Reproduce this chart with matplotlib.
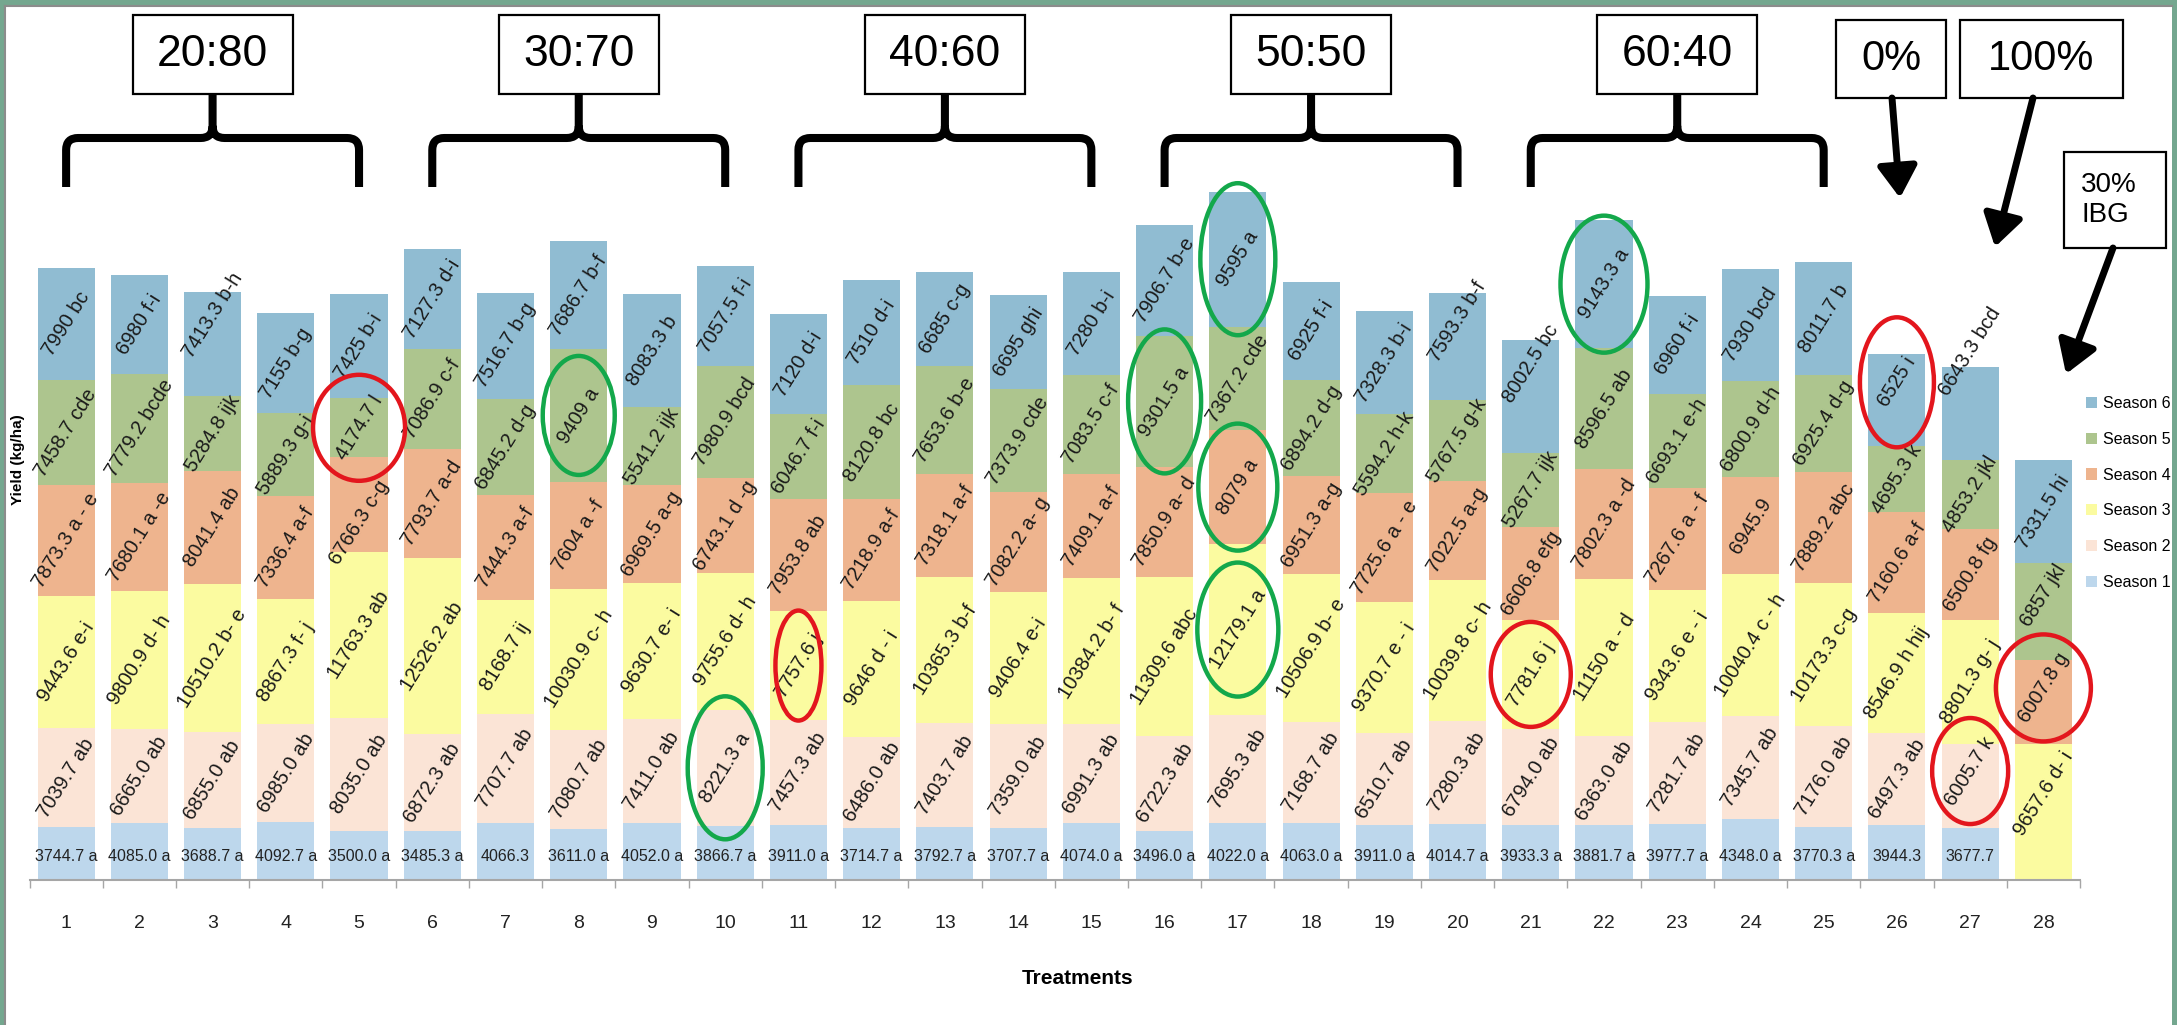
import matplotlib
matplotlib.use('Agg')
import matplotlib.pyplot as plt
from matplotlib import font_manager
from matplotlib.patches import Rectangle, Ellipse, PathPatch
from matplotlib.path import Path
from matplotlib.transforms import ScaledTranslation, blended_transform_factory
import numpy as np

# ---- data (kg/ha) ----
treatments = list(range(1, 29))
season_names = ['Season 1', 'Season 2', 'Season 3', 'Season 4', 'Season 5', 'Season 6']

season1 = [3744.7, 4085.0, 3688.7, 4092.7, 3500.0, 3485.3, 4066.3, 3611.0, 4052.0, 3866.7,
           3911.0, 3714.7, 3792.7, 3707.7, 4074.0, 3496.0, 4022.0, 4063.0, 3911.0, 4014.7,
           3933.3, 3881.7, 3977.7, 4348.0, 3770.3, 3944.3, 3677.7, 0]
season2 = [7039.7, 6665.0, 6855.0, 6985.0, 8035.0, 6872.3, 7707.7, 7080.7, 7411.0, 8221.3,
           7457.3, 6486.0, 7403.7, 7359.0, 6991.3, 6722.3, 7695.3, 7168.7, 6510.7, 7280.3,
           6794.0, 6363.0, 7281.7, 7345.7, 7176.0, 6497.3, 6005.7, 0]
season3 = [9443.6, 9800.9, 10510.2, 8867.3, 11763.3, 12526.2, 8168.7, 10030.9, 9630.7, 9755.6,
           7757.6, 9646, 10365.3, 9406.4, 10384.2, 11309.6, 12179.1, 10506.9, 9370.7, 10039.8,
           7781.6, 11150, 9343.6, 10040.4, 10173.3, 8546.9, 8801.3, 9657.6]
season4 = [7873.3, 7680.1, 8041.4, 7336.4, 6766.3, 7793.7, 7444.3, 7604, 6969.5, 6743.1,
           7953.8, 7218.9, 7318.1, 7082.2, 7409.1, 7850.9, 8079, 6951.3, 7725.6, 7022.5,
           6606.8, 7802.3, 7267.6, 6945.9, 7889.2, 7160.6, 6500.8, 6007.8]
season5 = [7458.7, 7779.2, 5284.8, 5889.3, 4174.7, 7086.9, 6845.2, 9409, 5541.2, 7980.9,
           6046.7, 8120.8, 7653.6, 7373.9, 7083.5, 9301.5, 7367.2, 6894.2, 5594.2, 5767.5,
           5267.7, 8596.5, 6693.1, 6800.9, 6925.4, 4695.3, 4853.2, 6857]
season6 = [7990, 6980, 7413.3, 7155, 7425, 7127.3, 7516.7, 7686.7, 8083.3, 7057.5,
           7120, 7510, 6685, 6695, 7280, 7906.7, 9595, 6925, 7328.3, 7593.3,
           8002.5, 9143.3, 6960, 7930, 8011.7, 6525, 6643.3, 7331.5]

lab1 = ["3744.7 a", "4085.0 a", "3688.7 a", "4092.7 a", "3500.0 a", "3485.3 a", "4066.3", "3611.0 a",
        "4052.0 a", "3866.7 a", "3911.0 a", "3714.7 a", "3792.7 a", "3707.7 a", "4074.0 a", "3496.0 a",
        "4022.0 a", "4063.0 a", "3911.0 a", "4014.7 a", "3933.3 a", "3881.7 a", "3977.7 a", "4348.0 a",
        "3770.3 a", "3944.3", "3677.7", ""]
lab2 = ["7039.7 ab", "6665.0 ab", "6855.0 ab", "6985.0 ab", "8035.0 ab", "6872.3 ab", "7707.7 ab",
        "7080.7 ab", "7411.0 ab", "8221.3 a", "7457.3 ab", "6486.0 ab", "7403.7 ab", "7359.0 ab",
        "6991.3 ab", "6722.3 ab", "7695.3 ab", "7168.7 ab", "6510.7 ab", "7280.3 ab", "6794.0 ab",
        "6363.0 ab", "7281.7 ab", "7345.7 ab", "7176.0 ab", "6497.3 ab", "6005.7 k", ""]
lab3 = ["9443.6 e-i", "9800.9 d- h", "10510.2 b- e", "8867.3 f- j", "11763.3 ab", "12526.2 ab",
        "8168.7 ij", "10030.9 c- h", "9630.7 e- i", "9755.6 d- h", "7757.6 j", "9646 d - i",
        "10365.3 b-f", "9406.4 e-i", "10384.2 b- f", "11309.6 abc", "12179.1 a", "10506.9 b- e",
        "9370.7 e - i", "10039.8 c- h", "7781.6 j", "11150 a - d", "9343.6 e - i", "10040.4 c - h",
        "10173.3 c-g", "8546.9 h hij", "8801.3 g- j", "9657.6 d- i"]
lab4 = ["7873.3 a - e", "7680.1 a -e", "8041.4 ab", "7336.4 a-f", "6766.3 c-g", "7793.7 a-d",
        "7444.3 a-f", "7604 a -f", "6969.5 a-g", "6743.1 d -g", "7953.8 ab", "7218.9 a-f",
        "7318.1 a-f", "7082.2 a- g", "7409.1 a-f", "7850.9 a- d", "8079 a", "6951.3 a-g",
        "7725.6 a - e", "7022.5 a-g", "6606.8 efg", "7802.3 a -d", "7267.6 a - f", "6945.9",
        "7889.2 abc", "7160.6 a-f", "6500.8 fg", "6007.8 g"]
lab5 = ["7458.7 cde", "7779.2 bcde", "5284.8 ijk", "5889.3 g-i", "4174.7 l", "7086.9 c-f",
        "6845.2 d-g", "9409 a", "5541.2 ijk", "7980.9 bcd", "6046.7 f-i", "8120.8 bc",
        "7653.6 b-e", "7373.9 cde", "7083.5 c-f", "9301.5 a", "7367.2 cde", "6894.2 d-g",
        "5594.2 h-k", "5767.5 g-k", "5267.7 ijk", "8596.5 ab", "6693.1 e-h", "6800.9 d-h",
        "6925.4 d-g", "4695.3 k", "4853.2 jkl", "6857 jkl"]
lab6 = ["7990 bc", "6980 f-i", "7413.3 b-h", "7155 b-g", "7425 b-i", "7127.3 d-i", "7516.7 b-g",
        "7686.7 b-f", "8083.3 b", "7057.5 f-i", "7120 d-i", "7510 d-i", "6685 c-g", "6695 ghi",
        "7280 b-i", "7906.7 b-e", "9595 a", "6925 f-i", "7328.3 b-i", "7593.3 b-f", "8002.5 bc",
        "9143.3 a", "6960 f-i", "7930 bcd", "8011.7 b", "6525 i", "6643.3 bcd", "7331.5 hi"]

groups = ['20:80', '30:70', '40:60', '50:50', '60:40']
group_bars = [(1, 5), (6, 10), (11, 15), (16, 20), (21, 25)]

# highlighted labels: (treatment, season index 0-5, colour, width px, height px)
circled = [(5, 4, 'r', 92, 106), (11, 2, 'r', 46, 110), (21, 2, 'r', 80, 105),
           (26, 5, 'r', 74, 130), (27, 1, 'r', 76, 106), (28, 3, 'r', 95, 107),
           (8, 4, 'g', 72, 119), (10, 1, 'g', 75, 143), (16, 4, 'g', 73, 144),
           (17, 5, 'g', 75, 152), (17, 3, 'g', 79, 127), (17, 2, 'g', 81, 134),
           (22, 5, 'g', 87, 137)]

# manual nudges of a few labels (px, negative = up)
nudge = {(3, 5): -29, (20, 5): -25, (21, 5): -33, (27, 5): -62, (26, 5): -18,
         (5, 3): 18, (27, 1): -15, (28, 2): -18, (28, 3): -14, (28, 4): -16}

colors = ['#BDD7EC', '#FBE4D6', '#FBFBA0', '#EEB48E', '#ADC58E', '#90BCD2']

names = {f.name for f in font_manager.fontManager.ttflist}
REG = 'Liberation Sans' if 'Liberation Sans' in names else 'DejaVu Sans'

W, H = 2177, 1025
fig = plt.figure(figsize=(W / 100, H / 100), dpi=100)
fig.patch.set_facecolor('#74A78F')
fig.patches.append(Rectangle((5 / W, 0), 2167 / W, (H - 6) / H, transform=fig.transFigure,
                             facecolor='white', edgecolor='none', zorder=-5))
fig.add_artist(plt.Line2D([5 / W, 5 / W], [0, (H - 6) / H], color='#8c8c8c', lw=1.5))
fig.add_artist(plt.Line2D([5 / W, 2172 / W], [(H - 6) / H, (H - 6) / H], color='#8c8c8c', lw=1.5))

ax = fig.add_axes([29.5 / W, 145 / H, 2050.5 / W, 880 / H])
ax.set_facecolor('none')
ax.set_xlim(0.5, 28.5)
ax.set_ylim(0, 62570)

seasons = [season1, season2, season3, season4, season5, season6]
labels = [lab1, lab2, lab3, lab4, lab5, lab6]
x = np.array(treatments)
bottom = np.zeros(len(x))
bars = []
label_pos = {}
for s, vals in enumerate(seasons):
    vals = np.array(vals, dtype=float)
    b = ax.bar(x, vals, bottom=bottom, width=0.78, color=colors[s], edgecolor='none',
               label=season_names[s], zorder=2)
    bars.append(b)
    for i, t in enumerate(treatments):
        txt = labels[s][i]
        if not txt:
            continue
        dy = nudge.get((t, s), 0)
        if s == 0:
            tr = blended_transform_factory(ax.transData, ax.transAxes)
            ax.text(t, 0.027, txt, transform=tr, ha='center', va='center',
                    fontsize=11.5, family=REG, color='#222222', zorder=4)
        else:
            ymid = bottom[i] + vals[i] / 2
            tr = ax.transData + ScaledTranslation(0, -dy / 100, fig.dpi_scale_trans)
            ax.text(t, ymid, txt, transform=tr, rotation=58, rotation_mode='anchor',
                    ha='center', va='center', fontsize=14.5, family=REG, color='#1a1a1a',
                    zorder=4)
            label_pos[(t, s)] = (t, ymid, dy)
    bottom += vals

for sp in ['top', 'right', 'left']:
    ax.spines[sp].set_visible(False)
ax.spines['bottom'].set_color('#A6A6A6')
ax.spines['bottom'].set_linewidth(1.5)
ax.set_yticks([])
ax.set_xticks(treatments)
ax.set_xticklabels([str(t) for t in treatments], family=REG, fontsize=14, color='#222222')
ax.tick_params(axis='x', which='major', length=0, pad=25)
ax.set_xticks(np.arange(0.5, 29, 1), minor=True)
ax.tick_params(axis='x', which='minor', length=6, width=1, color='#A6A6A6')

fig.text(1078 / W, 1 - 978 / H, 'Treatments', ha='center', va='center', family=REG,
         fontsize=15, fontweight='bold')
fig.text(18 / W, 1 - 460 / H, 'Yield (kg/ha)', ha='center', va='center', rotation=90,
         family=REG, fontsize=11, fontweight='bold')

handles = [bars[s] for s in range(5, -1, -1)]
fig.legend(handles, [season_names[s] for s in range(5, -1, -1)], loc='upper left',
           bbox_to_anchor=(2086 / W, 1 - 396 / H), frameon=False, borderpad=0, borderaxespad=0,
           prop={'family': REG, 'size': 11.5}, handlelength=0.7, handleheight=0.7,
           handletextpad=0.35, labelspacing=1.3)

# ---- overlay in image pixel coordinates for the annotations ----
ov = fig.add_axes([0, 0, 1, 1])
ov.set_xlim(0, W)
ov.set_ylim(H, 0)
ov.axis('off')
ov.patch.set_alpha(0)
ov.set_zorder(3)


def to_px(xd, yd):
    disp = ax.transData.transform((xd, yd))
    return ov.transData.inverted().transform(disp)


def box(x0, y0, x1, y1, text, size, ha='center', tx=None):
    ov.add_patch(Rectangle((x0, y0), x1 - x0, y1 - y0, facecolor='white', edgecolor='black', lw=1.6))
    ov.text(tx if tx is not None else (x0 + x1) / 2, (y0 + y1) / 2, text, ha=ha, va='center',
            family=REG, fontsize=size, linespacing=1.25)


def brace(xl, xr, top, ybar=138, yend=187, r=12):
    xc = (xl + xr) / 2
    verts = [(xl, yend), (xl, ybar + r), (xl, ybar), (xl + r, ybar), (xc - r, ybar), (xc, ybar),
             (xc, ybar - r), (xc, top), (xc, ybar - r), (xc, ybar), (xc + r, ybar), (xr - r, ybar),
             (xr, ybar), (xr, ybar + r), (xr, yend)]
    codes = [Path.MOVETO, Path.LINETO, Path.CURVE3, Path.CURVE3, Path.LINETO, Path.CURVE3, Path.CURVE3,
             Path.LINETO, Path.MOVETO, Path.CURVE3, Path.CURVE3, Path.LINETO, Path.CURVE3, Path.CURVE3,
             Path.LINETO]
    ov.add_patch(PathPatch(Path(verts, codes), facecolor='none', edgecolor='black', lw=5.8,
                           capstyle='butt', joinstyle='round'))


for name, (a, b) in zip(groups, group_bars):
    xl = to_px(a, 0)[0]
    xr = to_px(b, 0)[0]
    xc = (xl + xr) / 2
    brace(xl, xr, 94)
    box(xc - 80, 15, xc + 80, 94, name, 32)

box(1836, 20, 1946, 98, '0%', 30)
box(1960, 20, 2123, 98, '100%', 30)
box(2064, 152, 2166, 248, '30%\nIBG', 20, ha='left', tx=2081)

arrow_style = dict(arrowstyle='-|>,head_length=0.95,head_width=0.6', lw=5, color='black',
                   shrinkA=0, shrinkB=0, mutation_scale=20)
for start, tip in [((1892, 98), (1900, 198)), ((2033, 98), (1995, 247)), ((2113, 248), (2066, 374))]:
    ov.annotate('', xy=tip, xytext=start, arrowprops=arrow_style)

for t, s, c, w, h in circled:
    xd, yd, dy = label_pos[(t, s)]
    cx, cy = to_px(xd, yd)
    ec = '#E3161D' if c == 'r' else '#13A84B'
    ov.add_patch(Ellipse((cx, cy + dy), w, h, facecolor='none', edgecolor=ec, lw=3.2))

fig.savefig('out.png', dpi=100)
